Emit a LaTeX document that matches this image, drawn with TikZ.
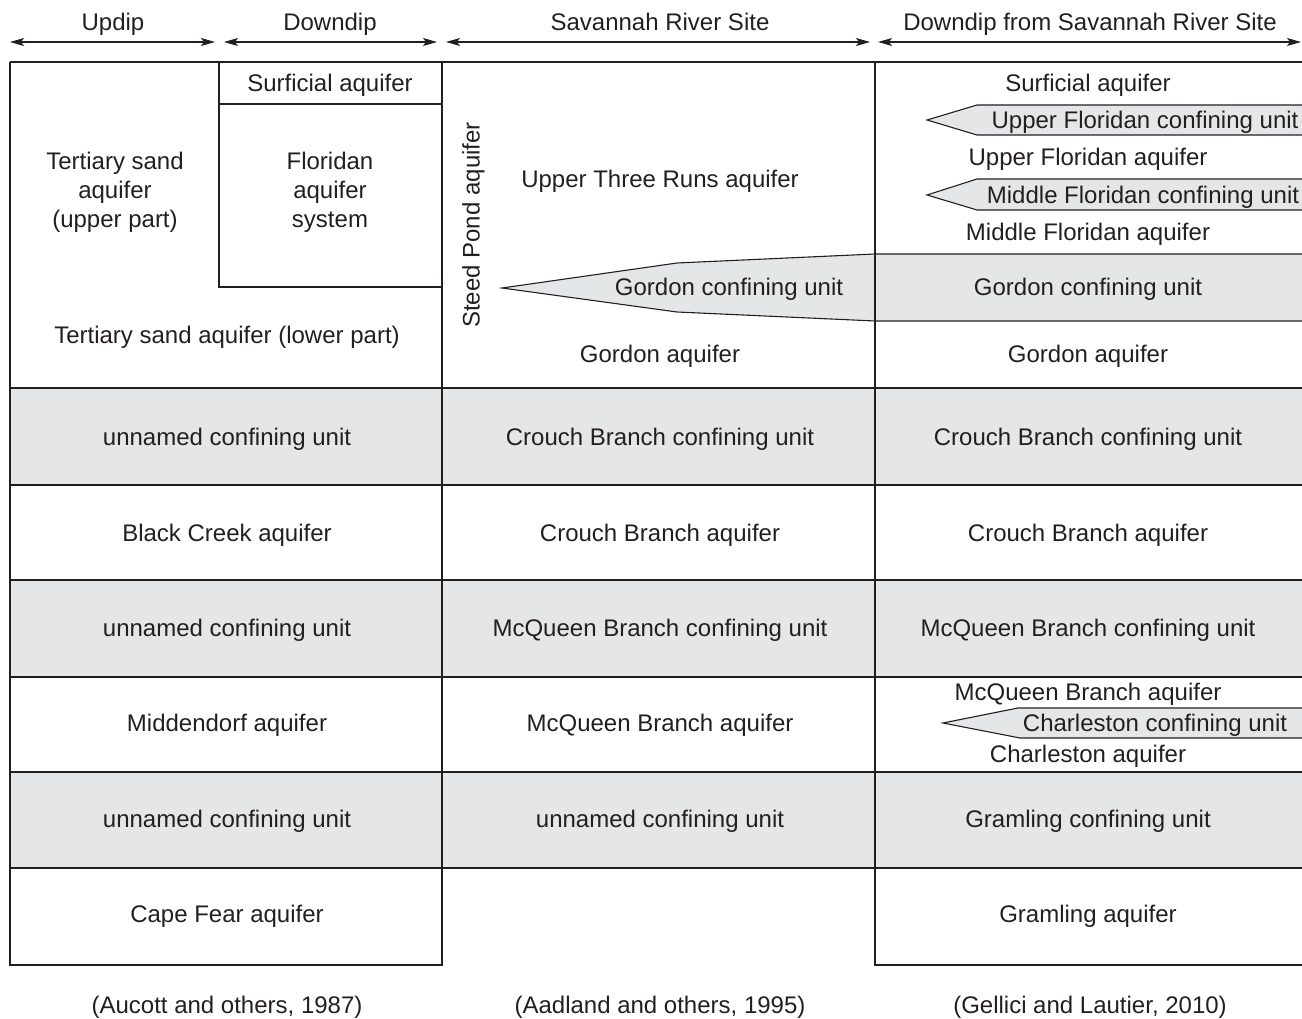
\documentclass[tikz,border=0pt]{standalone}
\usepackage{fontspec}
\setmainfont{Liberation Sans}
\usetikzlibrary{arrows.meta}
\definecolor{unitgray}{RGB}{229,230,232}
\definecolor{ink}{RGB}{35,31,32}
\tikzset{
  lbl/.style={inner sep=0pt, text height=17.2pt, text depth=0pt, font=\fontsize{24}{28}\selectfont, text=ink},
  thickline/.style={draw=ink, line width=2.4pt},
  thinline/.style={draw=ink, line width=1.3pt},
  dir/.style={draw=ink, line width=1.2pt, {Stealth[length=14pt,width=8pt,inset=3pt]}-{Stealth[length=14pt,width=8pt,inset=3pt]}},
  wedge/.style={fill=unitgray, draw=ink, line width=1.1pt}
}
\begin{document}
\begin{tikzpicture}[x=1pt,y=-1pt]
\useasboundingbox (0,0) rectangle (1302,1019);
% gray rows
\fill[unitgray] (10,388) rectangle (1302,485);
\fill[unitgray] (10,580) rectangle (1302,677);
\fill[unitgray] (10,772) rectangle (1302,868);
% Gordon confining unit wedge and band
\filldraw[wedge] (1302,254) -- (875,254) -- (677,263) -- (502,288) -- (677,312) -- (875,321) -- (1302,321);
% right-column wedges
\filldraw[wedge] (1302,105) -- (977,105) -- (927,120) -- (977,135) -- (1302,135);
\filldraw[wedge] (1302,179) -- (977,179) -- (927,195) -- (977,210) -- (1302,210);
\filldraw[wedge] (1302,708) -- (1018,708) -- (943,723) -- (1020,738) -- (1302,738);
% row lines
\foreach \yy in {388,485,580,677,772} \draw[thinline] (10,\yy) -- (1302,\yy);
\draw[thinline] (10,868) -- (442,868);
\draw[thinline] (875,868) -- (1302,868);
\draw[thickline] (442,868) -- (875,868);
% inner left boxes
\draw[thinline] (442,287) -- (219,287) -- (219,62);
\draw[thinline] (219,104) -- (442,104);
% frame
\draw[thickline] (10,62) -- (1302,62);
\draw[thickline] (10,62) -- (10,965) -- (442,965) -- (442,62);
\draw[thickline] (875,62) -- (875,965) -- (1302,965);
% header arrows
\coordinate (a1) at (10,42); \coordinate (a2) at (215,42);
\coordinate (b1) at (224,42); \coordinate (b2) at (437,42);
\coordinate (c1) at (446,42); \coordinate (c2) at (870,42);
\coordinate (d1) at (878,42); \coordinate (d2) at (1301,42);
\draw[dir] (a1) -- (a2);
\draw[dir] (b1) -- (b2);
\draw[dir] (c1) -- (c2);
\draw[dir] (d1) -- (d2);
\node[lbl] (hUp) at (113,22) {Updip};
\node[lbl] (hDown) at (330,22) {Downdip};
\node[lbl] (hSRS) at (660,22) {Savannah River Site};
\node[lbl] (hDSRS) at (1090,22) {Downdip from Savannah River Site};
% left column
\node[lbl] (l1a) at (115,161) {Tertiary sand};
\node[lbl] (l1b) at (115,190) {aquifer};
\node[lbl] (l1c) at (115,219) {(upper part)};
\node[lbl] (lsurf) at (330,83) {Surficial aquifer};
\node[lbl] (lfa) at (330,161) {Floridan};
\node[lbl] (lfb) at (330,190) {aquifer};
\node[lbl] (lfc) at (330,219) {system};
\node[lbl] (llow) at (227,335) {Tertiary sand aquifer (lower part)};
\node[lbl] (l2) at (227,437) {unnamed confining unit};
\node[lbl] (l3) at (227,533) {Black Creek aquifer};
\node[lbl] (l4) at (227,628) {unnamed confining unit};
\node[lbl] (l5) at (227,723) {Middendorf aquifer};
\node[lbl] (l6) at (227,819) {unnamed confining unit};
\node[lbl] (l7) at (227,914) {Cape Fear aquifer};
% middle column
\node[lbl, rotate=90] (msteed) at (471,225) {Steed Pond aquifer};
\node[lbl] (mutr) at (660,179) {Upper Three Runs aquifer};
\node[lbl] (mgcu) at (729,287) {Gordon confining unit};
\node[lbl] (mga) at (660,354) {Gordon aquifer};
\node[lbl] (m2) at (660,437) {Crouch Branch confining unit};
\node[lbl] (m3) at (660,533) {Crouch Branch aquifer};
\node[lbl] (m4) at (660,628) {McQueen Branch confining unit};
\node[lbl] (m5) at (660,723) {McQueen Branch aquifer};
\node[lbl] (m6) at (660,819) {unnamed confining unit};
% right column
\node[lbl] (rsurf) at (1088,83) {Surficial aquifer};
\node[lbl] (rufcu) at (1145,120) {Upper Floridan confining unit};
\node[lbl] (rufa) at (1088,157) {Upper Floridan aquifer};
\node[lbl] (rmfcu) at (1143,195) {Middle Floridan confining unit};
\node[lbl] (rmfa) at (1088,232) {Middle Floridan aquifer};
\node[lbl] (rgcu) at (1088,287) {Gordon confining unit};
\node[lbl] (rga) at (1088,354) {Gordon aquifer};
\node[lbl] (r2) at (1088,437) {Crouch Branch confining unit};
\node[lbl] (r3) at (1088,533) {Crouch Branch aquifer};
\node[lbl] (r4) at (1088,628) {McQueen Branch confining unit};
\node[lbl] (r5a) at (1088,692) {McQueen Branch aquifer};
\node[lbl] (r5b) at (1155,723) {Charleston confining unit};
\node[lbl] (r5c) at (1088,754) {Charleston aquifer};
\node[lbl] (r6) at (1088,819) {Gramling confining unit};
\node[lbl] (r7) at (1088,914) {Gramling aquifer};
% citations
\node[lbl] (cit1) at (227,1005) {(Aucott and others, 1987)};
\node[lbl] (cit2) at (660,1005) {(Aadland and others, 1995)};
\node[lbl] (cit3) at (1090,1005) {(Gellici and Lautier, 2010)};
\end{tikzpicture}
\end{document}
